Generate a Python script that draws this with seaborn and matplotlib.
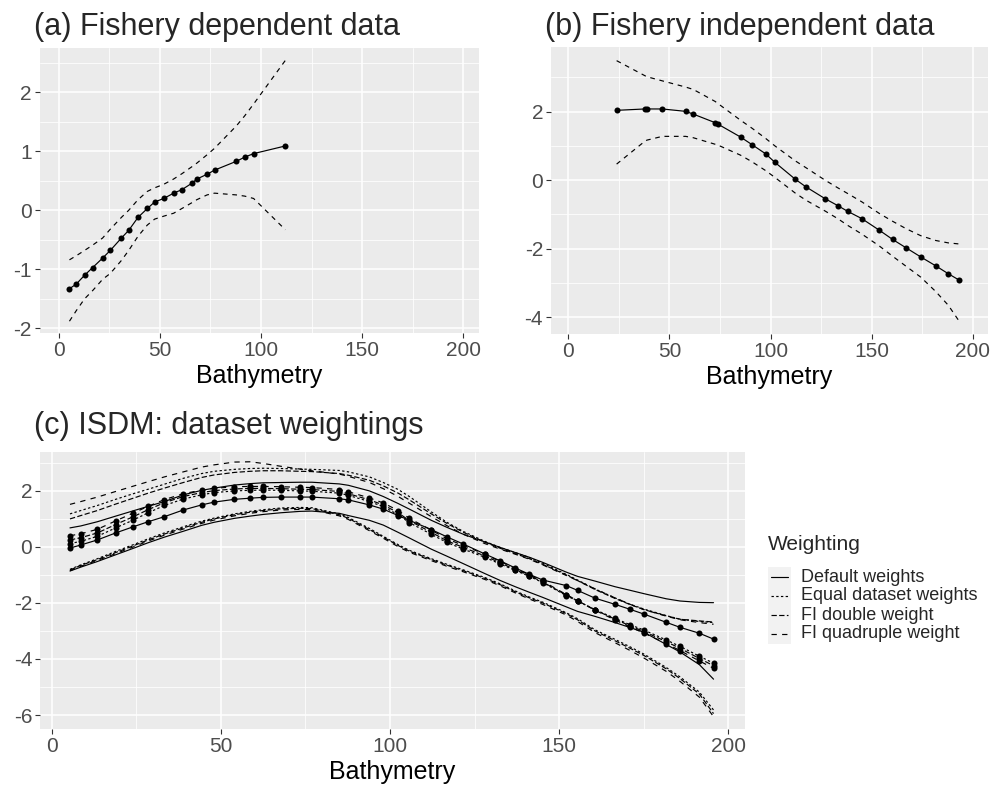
import numpy as np
import pandas as pd
import matplotlib
matplotlib.use("Agg")
import matplotlib.pyplot as plt
from matplotlib.lines import Line2D
from matplotlib.patches import Rectangle
import seaborn as sns

# ---------------- data ----------------
# (a) Fishery dependent data
fd_x = [5.3, 8.7, 12.8, 16.8, 21.7, 25.5, 31.0, 34.6, 39.2, 43.8, 47.4, 51.9, 56.8,
        60.9, 65.9, 68.3, 73.3, 77.0, 87.8, 91.9, 96.3, 112.0]
fd_fit = [-1.33, -1.25, -1.10, -0.97, -0.81, -0.68, -0.47, -0.34, -0.12, 0.03, 0.14,
          0.20, 0.29, 0.35, 0.46, 0.53, 0.61, 0.68, 0.83, 0.90, 0.96, 1.09]
fd_hi = [-0.84, -0.77, -0.68, -0.59, -0.47, -0.32, -0.12, 0.00, 0.18, 0.32, 0.38,
         0.44, 0.53, 0.62, 0.74, 0.80, 0.94, 1.05, 1.43, 1.60, 1.80, 2.54]
fd_lo = [-1.88, -1.70, -1.50, -1.36, -1.17, -1.07, -0.85, -0.68, -0.44, -0.25, -0.15,
         -0.10, -0.05, 0.03, 0.13, 0.18, 0.26, 0.29, 0.26, 0.24, 0.20, -0.33]

# (b) Fishery independent data
fi_x = [23.9, 37.9, 38.9, 46.5, 58.0, 61.8, 72.6, 74.2, 85.2, 90.8, 97.6, 102.2, 112.1,
        117.4, 127.0, 133.2, 138.2, 145.1, 153.8, 160.4, 167.2, 174.3, 181.7, 187.9, 193.1]
fi_fit = [2.04, 2.08, 2.08, 2.08, 2.01, 1.93, 1.68, 1.63, 1.26, 1.04, 0.77, 0.52, 0.035,
          -0.19, -0.54, -0.74, -0.91, -1.12, -1.46, -1.73, -1.98, -2.24, -2.50, -2.73, -2.91]
fi_hi = [3.49, 3.05, 3.02, 2.90, 2.72, 2.65, 2.30, 2.23, 1.75, 1.52, 1.22, 1.00, 0.57,
         0.37, 0.00, -0.22, -0.39, -0.63, -0.97, -1.20, -1.42, -1.62, -1.76, -1.83, -1.86]
fi_lo = [0.47, 1.14, 1.17, 1.28, 1.28, 1.24, 1.05, 1.02, 0.73, 0.54, 0.28, 0.08, -0.37,
         -0.58, -0.90, -1.12, -1.32, -1.57, -1.92, -2.22, -2.52, -2.83, -3.25, -3.65, -4.10]

# (c) ISDM: dataset weightings
weightings = ["Default weights", "Equal dataset weights", "FI double weight", "FI quadruple weight"]
isdm_x = [5.4, 8.6, 13.5, 18.9, 24.1, 28.5, 33.3, 38.9, 44.3, 48.0, 54.0, 58.6, 62.5, 67.7,
          73.4, 76.9, 85.0, 87.7, 93.9, 98.0, 102.4, 105.7, 112.2, 116.8, 121.7, 128.0,
          132.6, 137.0, 141.2, 145.1, 152.1, 155.4, 160.6, 166.5, 171.0, 175.1, 181.6,
          185.7, 191.4, 195.6]
default_fit = [-0.04, 0.07, 0.25, 0.50, 0.72, 0.90, 1.08, 1.32, 1.50, 1.60, 1.70, 1.74, 1.77,
               1.78, 1.78, 1.78, 1.72, 1.68, 1.50, 1.35, 1.12, 0.95, 0.62, 0.36, 0.10, -0.25,
               -0.50, -0.75, -0.98, -1.18, -1.38, -1.55, -1.83, -2.05, -2.23, -2.40, -2.69,
               -2.87, -3.08, -3.29]
default_hi = [0.68, 0.75, 0.90, 1.10, 1.29, 1.45, 1.62, 1.86, 2.02, 2.10, 2.21, 2.26, 2.29,
              2.30, 2.31, 2.31, 2.25, 2.20, 2.00, 1.80, 1.55, 1.35, 0.95, 0.70, 0.45, 0.18,
              -0.02, -0.20, -0.37, -0.55, -0.90, -1.05, -1.22, -1.42, -1.55, -1.67, -1.85,
              -1.93, -1.98, -1.99]
default_lo = [-0.86, -0.72, -0.52, -0.28, -0.05, 0.15, 0.35, 0.56, 0.77, 0.88, 1.02, 1.10,
              1.16, 1.22, 1.27, 1.28, 1.20, 1.12, 0.95, 0.78, 0.52, 0.32, -0.08, -0.33,
              -0.60, -0.95, -1.20, -1.42, -1.62, -1.80, -2.14, -2.30, -2.48, -2.70, -2.88,
              -3.05, -3.48, -3.75, -4.20, -4.72]
equal_fit = [0.12, 0.20, 0.38, 0.68, 0.96, 1.22, 1.48, 1.71, 1.86, 1.94, 2.00, 2.02, 2.03,
             2.02, 2.00, 1.99, 1.92, 1.84, 1.62, 1.44, 1.15, 0.87, 0.45, 0.16, -0.08, -0.37,
             -0.61, -0.84, -1.05, -1.27, -1.74, -1.93, -2.24, -2.55, -2.78, -2.97, -3.32,
             -3.55, -3.90, -4.15]
equal_hi = [1.18, 1.30, 1.48, 1.70, 1.90, 2.06, 2.24, 2.45, 2.62, 2.70, 2.77, 2.80, 2.81,
            2.80, 2.78, 2.77, 2.73, 2.68, 2.50, 2.30, 2.05, 1.80, 1.25, 0.88, 0.55, 0.20,
            -0.02, -0.20, -0.38, -0.58, -0.98, -1.18, -1.50, -1.82, -2.05, -2.22, -2.45,
            -2.58, -2.66, -2.70]
equal_lo = [-0.80, -0.64, -0.42, -0.16, 0.08, 0.29, 0.50, 0.72, 0.92, 1.03, 1.18, 1.27, 1.33,
            1.39, 1.41, 1.40, 1.18, 1.05, 0.66, 0.38, 0.08, -0.12, -0.42, -0.62, -0.82,
            -1.09, -1.32, -1.57, -1.79, -1.97, -2.35, -2.56, -2.96, -3.30, -3.57, -3.83,
            -4.30, -4.64, -5.18, -5.82]
double_fit = [0.25, 0.33, 0.50, 0.80, 1.08, 1.33, 1.58, 1.80, 1.94, 2.01, 2.07, 2.09, 2.09,
              2.08, 2.06, 2.05, 1.98, 1.90, 1.68, 1.50, 1.22, 0.94, 0.52, 0.22, -0.02, -0.32,
              -0.57, -0.81, -1.03, -1.25, -1.72, -1.92, -2.25, -2.58, -2.82, -3.02, -3.38,
              -3.62, -3.98, -4.24]
double_hi = [1.00, 1.12, 1.30, 1.53, 1.74, 1.92, 2.10, 2.30, 2.48, 2.57, 2.66, 2.70, 2.72,
             2.72, 2.70, 2.69, 2.62, 2.56, 2.38, 2.18, 1.92, 1.68, 1.18, 0.84, 0.52, 0.17,
             -0.05, -0.24, -0.42, -0.62, -1.00, -1.20, -1.52, -1.84, -2.06, -2.24, -2.46,
             -2.58, -2.64, -2.68]
double_lo = [-0.82, -0.66, -0.45, -0.20, 0.04, 0.25, 0.46, 0.68, 0.88, 1.00, 1.15, 1.24,
             1.30, 1.36, 1.38, 1.37, 1.15, 1.02, 0.62, 0.35, 0.05, -0.15, -0.45, -0.65,
             -0.85, -1.12, -1.35, -1.60, -1.82, -2.00, -2.38, -2.60, -3.00, -3.35, -3.62,
             -3.88, -4.35, -4.70, -5.25, -5.95]
quad_fit = [0.40, 0.47, 0.63, 0.93, 1.21, 1.45, 1.69, 1.90, 2.03, 2.09, 2.15, 2.16, 2.16,
            2.15, 2.13, 2.12, 2.05, 1.97, 1.75, 1.57, 1.30, 1.02, 0.60, 0.29, 0.05, -0.26,
            -0.52, -0.77, -1.00, -1.22, -1.70, -1.92, -2.26, -2.61, -2.86, -3.08, -3.45,
            -3.70, -4.07, -4.33]
quad_hi = [1.52, 1.62, 1.78, 1.98, 2.17, 2.33, 2.50, 2.68, 2.85, 2.93, 3.03, 3.04, 2.98,
           2.88, 2.78, 2.72, 2.60, 2.52, 2.30, 2.08, 1.80, 1.56, 1.08, 0.76, 0.45, 0.12,
           -0.08, -0.26, -0.44, -0.64, -1.02, -1.20, -1.50, -1.82, -2.05, -2.24, -2.47,
           -2.60, -2.70, -2.76]
quad_lo = [-0.85, -0.69, -0.48, -0.24, 0.00, 0.21, 0.42, 0.64, 0.84, 0.96, 1.11, 1.20, 1.26,
           1.32, 1.34, 1.33, 1.11, 0.98, 0.58, 0.31, 0.01, -0.19, -0.49, -0.69, -0.89,
           -1.16, -1.39, -1.64, -1.86, -2.05, -2.43, -2.66, -3.06, -3.42, -3.70, -3.97,
           -4.44, -4.80, -5.36, -6.06]

x_ticks = [0, 50, 100, 150, 200]
x_minor = [25, 75, 125, 175]

# ---------------- style ----------------
sns.set_style("darkgrid", {"axes.facecolor": "#EBEBEB", "grid.color": "white"})
plt.rcParams["font.family"] = ["Liberation Sans", "DejaVu Sans"]
plt.rcParams["axes.unicode_minus"] = False

W, H = 992, 790
fig = plt.figure(figsize=(W / 100, H / 100), dpi=100)
fig.patch.set_facecolor("white")


def box(l, t, r, b):
    return [l / W, 1 - b / H, (r - l) / W, (b - t) / H]


def fx(px):
    return px / W


def fy(py):
    return 1 - py / H


ax_a = fig.add_axes(box(39.5, 48, 479, 333))
ax_b = fig.add_axes(box(550.7, 47.3, 988.3, 334))
ax_c = fig.add_axes(box(40, 451.7, 745, 729.3))

LW = 0.85
PT = 19
CI_DASH = (0, (4.0, 4.0))


def single_panel(ax, xs, fit, lo, hi):
    df = pd.DataFrame({"Bathymetry": xs, "fit": fit, "lo": lo, "hi": hi})
    sns.lineplot(data=df, x="Bathymetry", y="fit", ax=ax, color="black", lw=LW)
    sns.lineplot(data=df, x="Bathymetry", y="hi", ax=ax, color="black", lw=LW,
                 linestyle=CI_DASH)
    sns.lineplot(data=df, x="Bathymetry", y="lo", ax=ax, color="black", lw=LW,
                 linestyle=CI_DASH)
    sns.scatterplot(data=df, x="Bathymetry", y="fit", ax=ax, color="black", s=PT,
                    linewidth=0, zorder=5)


single_panel(ax_a, fd_x, fd_fit, fd_lo, fd_hi)
single_panel(ax_b, fi_x, fi_fit, fi_lo, fi_hi)

# panel c long data
fits = [default_fit, equal_fit, double_fit, quad_fit]
his = [default_hi, equal_hi, double_hi, quad_hi]
los = [default_lo, equal_lo, double_lo, quad_lo]
rows = []
for w, f, h, l in zip(weightings, fits, his, los):
    for part, vals in (("fit", f), ("upper", h), ("lower", l)):
        for xv, yv in zip(isdm_x, vals):
            rows.append({"Bathymetry": xv, "value": yv, "Weighting": w,
                         "curve": w + part, "part": part})
df_c = pd.DataFrame(rows)

dash_map = {"Default weights": "", "Equal dataset weights": (2.0, 2.0),
            "FI double weight": (4.5, 2.0), "FI quadruple weight": (4.5, 4.5)}
sns.lineplot(data=df_c, x="Bathymetry", y="value", style="Weighting", units="curve",
             estimator=None, dashes=dash_map, color="black", lw=LW, ax=ax_c,
             legend=False, style_order=weightings)
sns.scatterplot(data=df_c[df_c["part"] == "fit"], x="Bathymetry", y="value",
                color="black", s=PT, linewidth=0, ax=ax_c, zorder=5, legend=False)

# ---------------- axes cosmetics ----------------
limits = {
    ax_a: ((-9.5, 207.7), (-2.08, 2.75), [-2, -1, 0, 1, 2], [-1.5, -0.5, 0.5, 1.5, 2.5]),
    ax_b: ((-8.7, 207.7), (-4.49, 3.88), [-4, -2, 0, 2], [-3, -1, 1, 3]),
    ax_c: ((-3.46, 204.9), (-6.51, 3.40), [-6, -4, -2, 0, 2], [-5, -3, -1, 1, 3]),
}
for ax, (xl, yl, yt, ym) in limits.items():
    ax.set_xlim(*xl)
    ax.set_ylim(*yl)
    ax.set_xticks(x_ticks)
    ax.set_xticks(x_minor, minor=True)
    ax.set_yticks(yt)
    ax.set_yticks(ym, minor=True)
    ax.set_xticklabels([str(v) for v in x_ticks])
    ax.set_yticklabels([str(v) for v in yt])
    ax.grid(which="major", color="white", lw=1.1)
    ax.grid(which="minor", color="white", lw=0.55)
    ax.set_axisbelow(True)
    for s in ax.spines.values():
        s.set_visible(False)
    ax.tick_params(which="major", bottom=True, left=True, length=3.5, width=0.8,
                   color="#333333", labelsize=15, labelcolor="#4D4D4D", pad=2)
    ax.tick_params(which="minor", length=0)
    ax.set_ylabel("")
    ax.set_xlabel("Bathymetry", fontsize=18, color="black", labelpad=3)

# titles
fig.text(fx(34), fy(35.5), "(a) Fishery dependent data", fontsize=22, va="baseline", ha="left")
fig.text(fx(545), fy(35.5), "(b) Fishery independent data", fontsize=22, va="baseline", ha="left")
fig.text(fx(34), fy(434), "(c) ISDM: dataset weightings", fontsize=22, va="baseline", ha="left")

# legend (manual, ggplot-like)
fig.text(fx(768), fy(545), "Weighting", fontsize=15, va="center", ha="left")
row_y = [577, 596, 615, 634]
fig.add_artist(Rectangle((fx(768), fy(644)), (791 - 768) / W, (644 - 567) / H,
                         transform=fig.transFigure, facecolor="#F2F2F2",
                         edgecolor="none", zorder=0))
styles = ["-", (0, (2.0, 2.0)), (0, (4.5, 2.0)), (0, (4.5, 4.5))]
for yy, lab, ls in zip(row_y, weightings, styles):
    fig.add_artist(Line2D([fx(771), fx(788)], [fy(yy), fy(yy)], transform=fig.transFigure,
                          color="black", lw=LW, linestyle=ls))
    fig.text(fx(801), fy(yy), lab, fontsize=13, va="center", ha="left")

fig.savefig("out.png", dpi=100, facecolor="white")
